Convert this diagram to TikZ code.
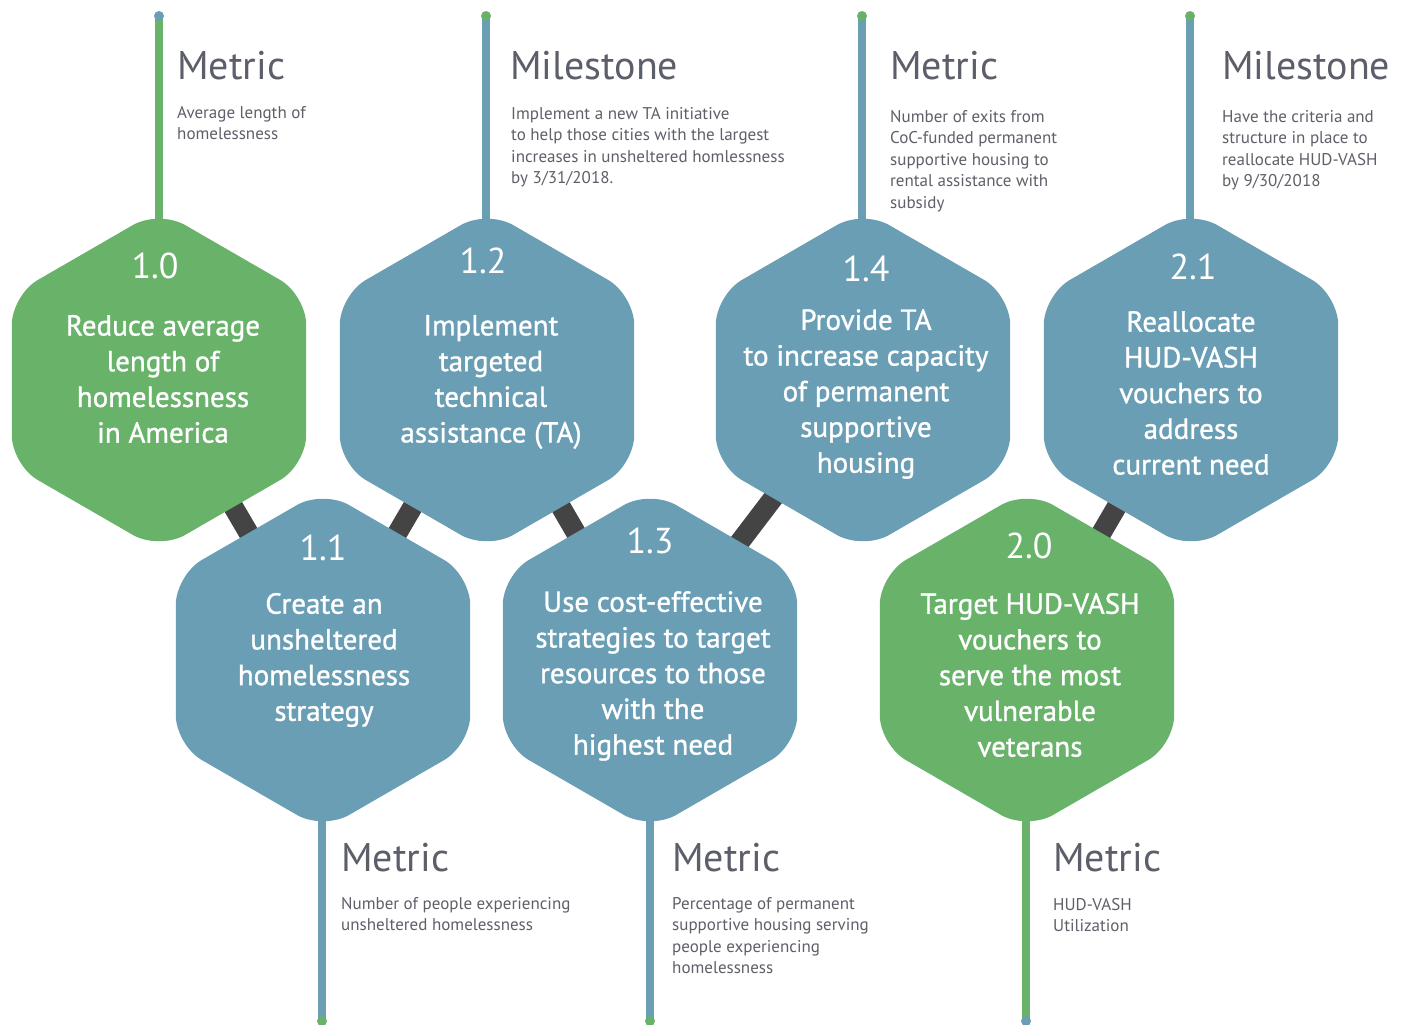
\documentclass[tikz,border=0pt]{standalone}
\usepackage{fontspec}
\setmainfont{PT Sans}
\newfontfamily\goalfont[FakeBold=1.1]{PT Sans}
\usetikzlibrary{calc}

\definecolor{hexgreen}{RGB}{104,178,106}
\definecolor{hexblue}{RGB}{105,158,181}
\definecolor{linkgray}{RGB}{68,68,68}
\definecolor{headgray}{RGB}{92,94,106}
\definecolor{descgray}{RGB}{95,95,105}

\tikzset{
  stem/.style={line width=8pt},
  link/.style={draw=linkgray, line width=20pt},
  hexnum/.style={text=white, inner sep=0pt, font=\fontsize{36}{40}\selectfont},
  hextext/.style={text=white, align=center, inner sep=0pt, font=\goalfont\fontsize{29}{35.7}\selectfont},
  heading/.style={text=headgray, anchor=base west, inner sep=0pt, font=\fontsize{40}{44}\selectfont},
  desc/.style={text=descgray, anchor=north west, inner sep=0pt, align=left, font=\fontsize{17}{21.5}\selectfont},
}

% rounded pointy-top hexagon around a named centre
\newcommand{\hexat}[2]{%
  \fill[#2, rounded corners=30pt]
    ($(#1)+(90:170)$) -- ($(#1)+(150:170)$) -- ($(#1)+(210:170)$) --
    ($(#1)+(270:170)$) -- ($(#1)+(330:170)$) -- ($(#1)+(30:170)$) -- cycle;}

\begin{document}
\begin{tikzpicture}[x=1pt,y=-1pt]
\useasboundingbox (0,0) rectangle (1408,1025);
\fill[white] (0,0) rectangle (1408,1025);

% hexagon centres
\coordinate (h10) at (159,380);
\coordinate (h12) at (487,380);
\coordinate (h14) at (863,380);
\coordinate (h21) at (1191,380);
\coordinate (h11) at (323,660);
\coordinate (h13) at (650,660);
\coordinate (h20) at (1027,660);

% free ends of the stems
\coordinate (t10) at (159,16);
\coordinate (t12) at (486,16);
\coordinate (t14) at (862,16);
\coordinate (t21) at (1190,16);
\coordinate (b11) at (322,1021);
\coordinate (b13) at (650,1021);
\coordinate (b20) at (1026,1021);

% dark links between neighbouring goals
\draw[link] (h10) -- (h11);
\draw[link] (h11) -- (h12);
\draw[link] (h12) -- (h13);
\draw[link] (h13) -- (h14);
\draw[link] (h20) -- (h21);

% stems
\draw[stem, hexgreen] (t10) -- (t10 |- h10);
\draw[stem, hexblue]  (t12) -- (t12 |- h12);
\draw[stem, hexblue]  (t14) -- (t14 |- h14);
\draw[stem, hexblue]  (t21) -- (t21 |- h21);
\draw[stem, hexblue]  (b11) -- (b11 |- h11);
\draw[stem, hexblue]  (b13) -- (b13 |- h13);
\draw[stem, hexgreen] (b20) -- (b20 |- h20);

\fill[hexblue]  (t10) circle (5);
\fill[hexgreen] (t12) circle (5);
\fill[hexgreen] (t14) circle (5);
\fill[hexgreen] (t21) circle (5);
\fill[hexgreen] (b11) circle (5);
\fill[hexgreen] (b13) circle (5);
\fill[hexblue]  (b20) circle (5);

% hexagons
\hexat{h10}{hexgreen}
\hexat{h12}{hexblue}
\hexat{h14}{hexblue}
\hexat{h21}{hexblue}
\hexat{h11}{hexblue}
\hexat{h13}{hexblue}
\hexat{h20}{hexgreen}

% goal numbers
\node[hexnum] (n10) at (155,266) {1.0};
\node[hexnum] (n12) at (483,261) {1.2};
\node[hexnum] (n14) at (866,269) {1.4};
\node[hexnum] (n21) at (1193,267) {2.1};
\node[hexnum] (n11) at (323,548) {1.1};
\node[hexnum] (n13) at (650,541) {1.3};
\node[hexnum] (n20) at (1029,546) {2.0};

% goal texts
\node[hextext] (g10) at (163,379) {Reduce average\\length of\\homelessness\\in America};
\node[hextext] (g12) at (491,382) {Implement\\targeted\\technical\\assistance (TA)};
\node[hextext] (g14) at (866,394) {Provide TA\\to increase capacity\\of permanent\\supportive\\housing};
\node[hextext] (g21) at (1191,393) {Reallocate\\HUD-VASH\\vouchers to\\address\\current need};
\node[hextext] (g11) at (324,660) {Create an\\unsheltered\\homelessness\\strategy};
\node[hextext] (g13) at (653,676) {Use cost-effective\\strategies to target\\resources to those\\with the\\highest need};
\node[hextext] (g20) at (1030,675) {Target HUD-VASH\\vouchers to\\serve the most\\vulnerable\\veterans};

% headings
\node[heading] (m10) at (177,79) {Metric};
\node[heading] (m12) at (510,79) {Milestone};
\node[heading] (m14) at (890,79) {Metric};
\node[heading] (m21) at (1222,79) {Milestone};
\node[heading] (m11) at (341,871) {Metric};
\node[heading] (m13) at (672,871) {Metric};
\node[heading] (m20) at (1053,871) {Metric};

% descriptions
\node[desc] (d10) at (177,106) {Average length of\\homelessness};
\node[desc] (d12) at (511,107) {Implement a new TA initiative\\to help those cities with the largest\\increases in unsheltered homlessness\\by 3/31/2018.};
\node[desc] (d14) at (890,110) {Number of exits from\\CoC-funded permanent\\supportive housing to\\rental assistance with\\subsidy};
\node[desc] (d21) at (1222,110) {Have the criteria and\\structure in place to\\reallocate HUD-VASH\\by 9/30/2018};
\node[desc] (d11) at (341,897) {Number of people experiencing\\unsheltered homelessness};
\node[desc] (d13) at (672,897) {Percentage of permanent\\supportive housing serving\\people experiencing\\homelessness};
\node[desc] (d20) at (1053,898) {HUD-VASH\\Utilization};
\end{tikzpicture}
\end{document}
